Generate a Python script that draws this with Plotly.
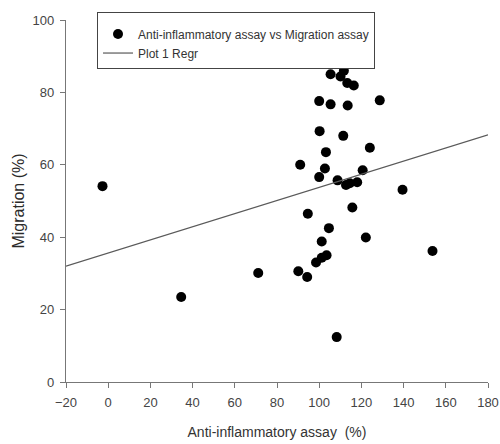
import plotly.graph_objects as go

# Data
anti_inflammatory = [-2.7, 34.6, 71.1, 90.1, 94.3, 98.5, 101.2, 103.5, 101.2, 104.6,
                     122.1, 153.7, 108.3, 94.6, 115.7, 139.5, 108.7, 112.7, 114.5, 118.0,
                     100.0, 102.7, 120.6, 91.0, 103.2, 124.0, 100.2, 111.4, 100.0, 105.4,
                     113.5, 128.7, 105.4, 110.1, 111.7, 113.3, 116.4]
migration = [54.1, 23.5, 30.1, 30.6, 29.0, 33.0, 34.3, 35.0, 38.8, 42.5,
             39.9, 36.2, 12.4, 46.5, 48.2, 53.1, 55.7, 54.4, 54.9, 55.2,
             56.6, 59.0, 58.5, 60.0, 63.5, 64.7, 69.3, 68.0, 77.6, 76.7,
             76.4, 77.8, 85.0, 84.4, 86.0, 82.6, 81.9]

regr_x = [-20, 180]
regr_y = [32.0, 68.3]

x_ticks = [-20, 0, 20, 40, 60, 80, 100, 120, 140, 160, 180]
y_ticks = [0, 20, 40, 60, 80, 100]

FONT = "Liberation Sans, Arial, sans-serif"

fig = go.Figure()
fig.add_trace(go.Scatter(
    x=anti_inflammatory, y=migration, mode="markers",
    name="Anti-inflammatory assay vs Migration assay",
    marker=dict(color="black", size=10),
))
fig.add_trace(go.Scatter(
    x=regr_x, y=regr_y, mode="lines", name="Plot 1 Regr",
    line=dict(color="#5a5a5a", width=1.2),
))

axis_common = dict(
    showline=True, linecolor="#777777", linewidth=1.3,
    ticks="outside", ticklen=5, tickcolor="#777777", tickwidth=1.3,
    showgrid=False, zeroline=False, automargin=False,
    tickfont=dict(family=FONT, size=13, color="#444444"),
    ticklabelstandoff=3, ticklabeloverflow="allow",
)

fig.update_layout(
    width=500, height=444,
    margin=dict(l=66, r=12, t=20, b=62, autoexpand=False),
    plot_bgcolor="white", paper_bgcolor="white",
    font=dict(family=FONT, color="#333333"),
    xaxis=dict(range=[-20, 180], tickvals=x_ticks, **axis_common,
               title=dict(text="Anti-inflammatory assay  (%)",
                          font=dict(family=FONT, size=14, color="#333333"),
                          standoff=18)),
    yaxis=dict(range=[0, 100], tickvals=y_ticks, **axis_common,
               title=dict(text="Migration (%)",
                          font=dict(family=FONT, size=16, color="#2a2a2a"),
                          standoff=3)),
    showlegend=True,
    legend=dict(x=0.0735, y=1.022, xanchor="left", yanchor="top",
                bordercolor="#444444", borderwidth=1, bgcolor="white",
                font=dict(family=FONT, size=12, color="#333333"),
                title=dict(text=" ", font=dict(size=5)),
                tracegroupgap=0),
)

# remove the browser's default page margin so the 500x444 figure fills the window
fig.write_html("out.html", config={"displayModeBar": False},
               post_script="document.body.style.margin='0';")
